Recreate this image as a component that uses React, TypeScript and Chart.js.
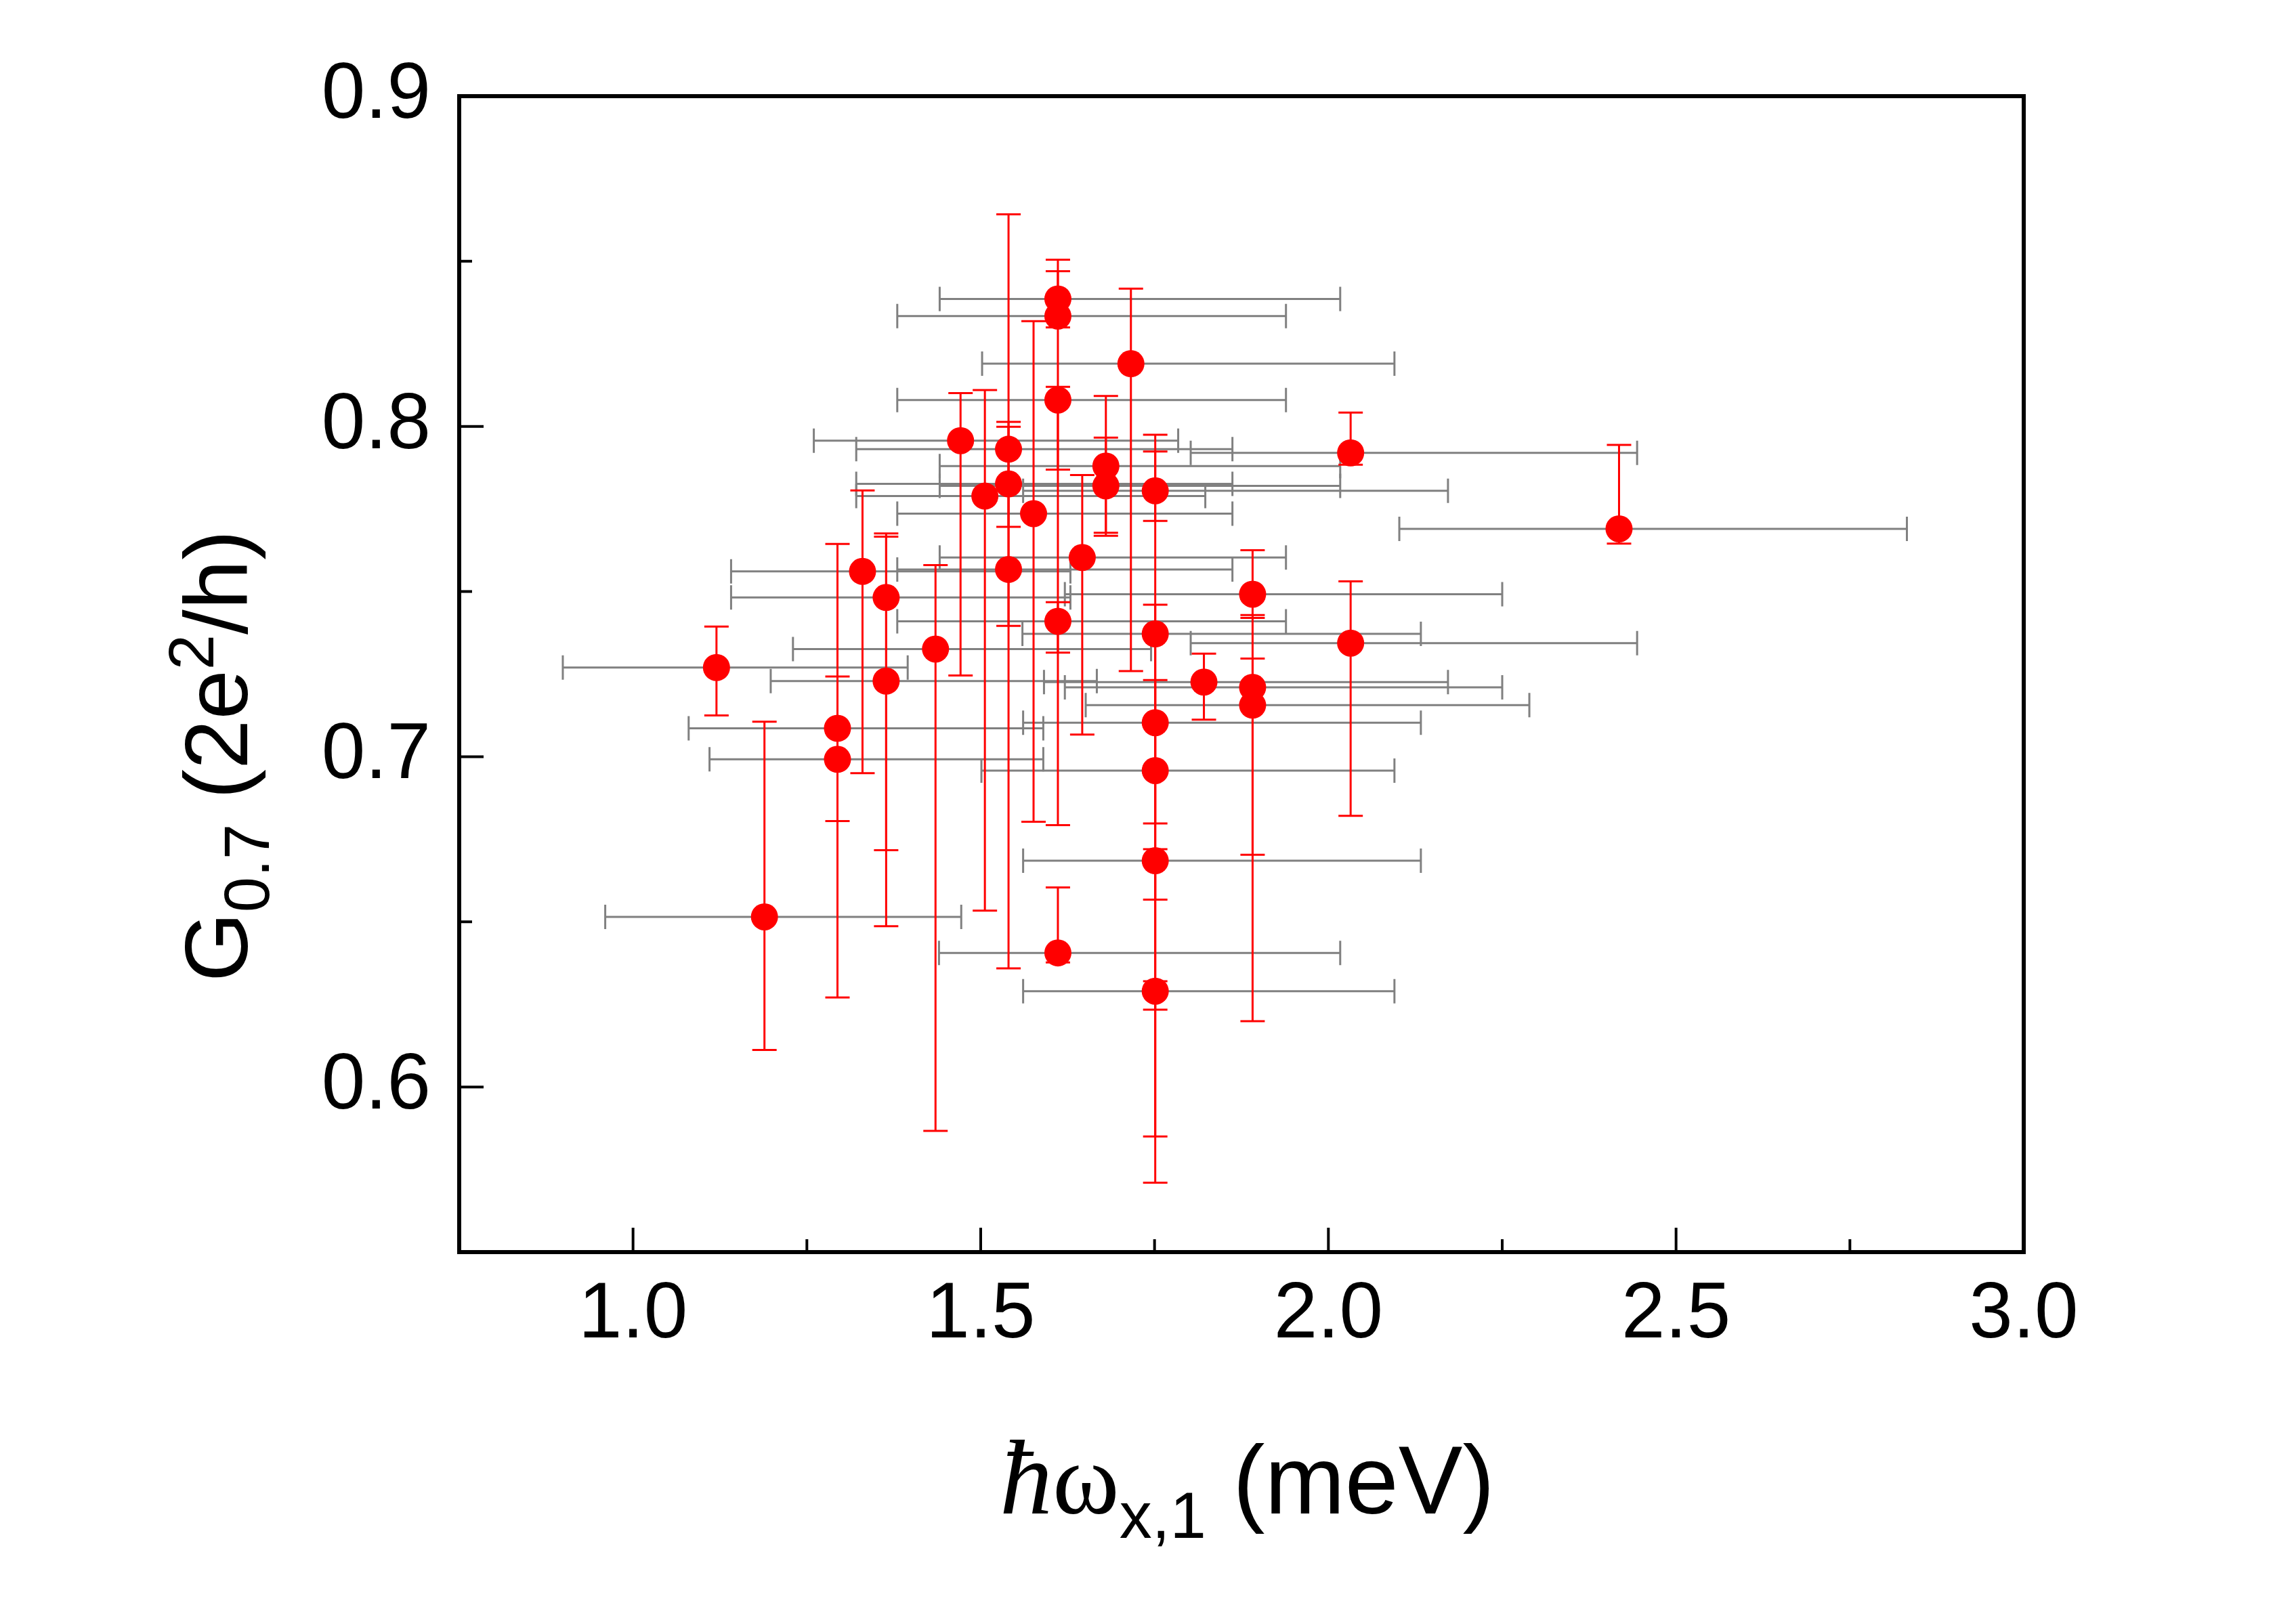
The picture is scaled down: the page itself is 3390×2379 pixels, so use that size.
import { useEffect, useRef } from "react";
import { Chart, registerables } from "chart.js";

Chart.register(...registerables);

// hbar*omega_x,1 (meV) and G_0.7 (2e^2/h), with asymmetric error bounds
const xValues = [
  1.12, 1.189, 1.294, 1.294, 1.33, 1.364, 1.364, 1.435, 1.471, 1.506, 1.54, 1.54,
  1.54, 1.576, 1.611, 1.611, 1.611, 1.611, 1.611, 1.646, 1.68, 1.68, 1.716, 1.751,
  1.751, 1.751, 1.751, 1.751, 1.751, 1.821, 1.891, 1.891, 1.891, 2.032, 2.032, 2.418
];
const yValues = [
  0.727, 0.6515, 0.7086, 0.6992, 0.7561, 0.7482, 0.7229, 0.7326, 0.7957, 0.7789, 0.7931, 0.7826,
  0.7567, 0.7736, 0.8386, 0.8334, 0.808, 0.741, 0.6406, 0.7603, 0.788, 0.782, 0.819, 0.7805,
  0.7372, 0.7103, 0.6958, 0.6685, 0.629, 0.7226, 0.7492, 0.721, 0.7156, 0.792, 0.7344, 0.769
];
const yLow = [
  0.7125, 0.6112, 0.6805, 0.6271, 0.695, 0.6717, 0.6487, 0.5867, 0.7246, 0.6534, 0.7696, 0.7396,
  0.6359, 0.6803, 0.83, 0.7869, 0.6793, 0.7315, 0.6377, 0.7067, 0.7669, 0.7678, 0.7259, 0.7714,
  0.6798, 0.6567, 0.6234, 0.585, 0.571, 0.7112, 0.742, 0.6703, 0.6199, 0.7884, 0.6821, 0.7645
];
const yHigh = [
  0.7394, 0.7106, 0.7644, 0.7243, 0.7806, 0.7676, 0.7666, 0.758, 0.8101, 0.811, 0.8642, 0.7999,
  0.8014, 0.8319, 0.8505, 0.847, 0.812, 0.7468, 0.6604, 0.7853, 0.8092, 0.7966, 0.8417, 0.7975,
  0.7924, 0.746, 0.7232, 0.672, 0.632, 0.7312, 0.7625, 0.7429, 0.7297, 0.8042, 0.7531, 0.7944
];
const xLow = [
  0.899, 0.96, 1.08, 1.11, 1.141, 1.141, 1.198, 1.23, 1.26, 1.321, 1.321, 1.321,
  1.38, 1.38, 1.441, 1.38, 1.38, 1.38, 1.44, 1.441, 1.441, 1.441, 1.502, 1.561,
  1.56, 1.561, 1.501, 1.561, 1.561, 1.591, 1.621, 1.621, 1.651, 1.802, 1.802, 2.102
];
const xHigh = [
  1.395, 1.472, 1.59, 1.59, 1.629, 1.629, 1.667, 1.745, 1.784, 1.823, 1.862, 1.862,
  1.862, 1.862, 2.017, 1.939, 1.939, 1.939, 2.017, 1.939, 2.017, 2.017, 2.095, 2.172,
  2.133, 2.133, 2.095, 2.133, 2.095, 2.172, 2.25, 2.25, 2.289, 2.444, 2.444, 2.832
];

const xTickValues = [1.0, 1.5, 2.0, 2.5, 3.0];
const xMinorTicks = [1.25, 1.75, 2.25, 2.75];
const yTickValues = [0.6, 0.7, 0.8, 0.9];
const yMinorTicks = [0.65, 0.75, 0.85];

const SANS = '"Liberation Sans", Arial, sans-serif';
const SERIF = '"Liberation Serif", "Times New Roman", serif';

type Seg = { text: string; font: string; dy: number };

function drawRich(ctx: CanvasRenderingContext2D, segs: Seg[], x: number, y: number) {
  let cx = x;
  for (const s of segs) {
    ctx.font = s.font;
    ctx.fillText(s.text, cx, y + s.dy);
    cx += ctx.measureText(s.text).width;
  }
}

const errorBarPlugin = {
  id: "errorBars",
  beforeDatasetsDraw(chart: Chart) {
    const { ctx } = chart;
    const x = chart.scales.x;
    const y = chart.scales.y;
    ctx.save();
    ctx.lineCap = "butt";
    ctx.lineWidth = 3;
    ctx.strokeStyle = "#808080";
    xValues.forEach((_, i) => {
      const py = y.getPixelForValue(yValues[i]);
      const x0 = x.getPixelForValue(xLow[i]);
      const x1 = x.getPixelForValue(xHigh[i]);
      ctx.beginPath();
      ctx.moveTo(x0, py);
      ctx.lineTo(x1, py);
      ctx.moveTo(x0, py - 18);
      ctx.lineTo(x0, py + 18);
      ctx.moveTo(x1, py - 18);
      ctx.lineTo(x1, py + 18);
      ctx.stroke();
    });
    ctx.strokeStyle = "#ff0000";
    xValues.forEach((v, i) => {
      const px = x.getPixelForValue(v);
      const y0 = y.getPixelForValue(yLow[i]);
      const y1 = y.getPixelForValue(yHigh[i]);
      ctx.beginPath();
      ctx.moveTo(px, y0);
      ctx.lineTo(px, y1);
      ctx.moveTo(px - 18, y0);
      ctx.lineTo(px + 18, y0);
      ctx.moveTo(px - 18, y1);
      ctx.lineTo(px + 18, y1);
      ctx.stroke();
    });
    ctx.restore();
  }
};

const framePlugin = {
  id: "frame",
  afterDraw(chart: Chart) {
    const { ctx, chartArea: a } = chart;
    const x = chart.scales.x;
    const y = chart.scales.y;
    ctx.save();
    ctx.strokeStyle = "#000";
    ctx.lineWidth = 6;
    ctx.strokeRect(a.left, a.top, a.right - a.left, a.bottom - a.top);
    ctx.lineWidth = 4;
    ctx.beginPath();
    xTickValues.forEach((v) => {
      const px = x.getPixelForValue(v);
      ctx.moveTo(px, a.bottom);
      ctx.lineTo(px, a.bottom - 36);
    });
    xMinorTicks.forEach((v) => {
      const px = x.getPixelForValue(v);
      ctx.moveTo(px, a.bottom);
      ctx.lineTo(px, a.bottom - 19);
    });
    yTickValues.forEach((v) => {
      const py = y.getPixelForValue(v);
      ctx.moveTo(a.left, py);
      ctx.lineTo(a.left + 36, py);
    });
    yMinorTicks.forEach((v) => {
      const py = y.getPixelForValue(v);
      ctx.moveTo(a.left, py);
      ctx.lineTo(a.left + 19, py);
    });
    ctx.stroke();

    // axis titles
    ctx.fillStyle = "#000";
    ctx.textBaseline = "alphabetic";
    ctx.textAlign = "left";
    drawRich(
      ctx,
      [
        { text: "\u0127", font: `italic 156px ${SERIF}`, dy: 0 },
        { text: "\u03c9", font: `150px ${SERIF}`, dy: 0 },
        { text: "x,1", font: `96px ${SANS}`, dy: 36 },
        { text: " (meV)", font: `142px ${SANS}`, dy: 0 }
      ],
      a.left + 798,
      a.bottom + 386
    );

    ctx.translate(a.left - 313, a.top + 1308);
    ctx.rotate(-Math.PI / 2);
    drawRich(
      ctx,
      [
        { text: "G", font: `132px ${SANS}`, dy: 0 },
        { text: "0.7", font: `94px ${SANS}`, dy: 32 },
        { text: " (2e", font: `132px ${SANS}`, dy: 0 },
        { text: "2", font: `94px ${SANS}`, dy: -50 },
        { text: "/h)", font: `132px ${SANS}`, dy: 0 }
      ],
      0,
      0
    );
    ctx.restore();
  }
};

function ScatterErrorChart() {
  const canvasRef = useRef<HTMLCanvasElement | null>(null);

  useEffect(() => {
    if (!canvasRef.current) return;
    const chart = new Chart(canvasRef.current, {
      type: "scatter",
      data: {
        datasets: [
          {
            data: xValues.map((v, i) => ({ x: v, y: yValues[i] })),
            pointRadius: 20,
            pointHoverRadius: 20,
            pointBackgroundColor: "#ff0000",
            pointBorderWidth: 0,
            borderWidth: 0
          }
        ]
      },
      options: {
        animation: false,
        responsive: false,
        devicePixelRatio: 1,
        events: [],
        layout: { padding: { top: 142, right: 402, left: 0, bottom: 0 } },
        plugins: { legend: { display: false }, tooltip: { enabled: false } },
        scales: {
          x: {
            type: "linear",
            min: 0.75,
            max: 3.0,
            grid: { display: false, drawTicks: false },
            border: { display: false },
            afterBuildTicks: (scale) => {
              scale.ticks = xTickValues.map((value) => ({ value }));
            },
            afterFit: (scale) => {
              scale.height = 530;
            },
            ticks: {
              padding: 24,
              color: "#000",
              font: { family: SANS, size: 116 },
              callback: (v) => Number(v).toFixed(1)
            }
          },
          y: {
            type: "linear",
            min: 0.55,
            max: 0.9,
            grid: { display: false, drawTicks: false },
            border: { display: false },
            afterBuildTicks: (scale) => {
              scale.ticks = yTickValues.map((value) => ({ value }));
            },
            afterFit: (scale) => {
              scale.width = 678;
            },
            ticks: {
              padding: 42,
              color: "#000",
              font: { family: SANS, size: 116 },
              callback: (v) => Number(v).toFixed(1)
            }
          }
        }
      },
      plugins: [errorBarPlugin, framePlugin]
    });
    return () => chart.destroy();
  }, []);

  return (
    <div style={{ position: "absolute", left: 0, top: 0, width: 3390, height: 2379, background: "#fff" }}>
      <canvas ref={canvasRef} width={3390} height={2379} style={{ display: "block", width: 3390, height: 2379 }} />
    </div>
  );
}

export default function App() {
  return <ScatterErrorChart />;
}
